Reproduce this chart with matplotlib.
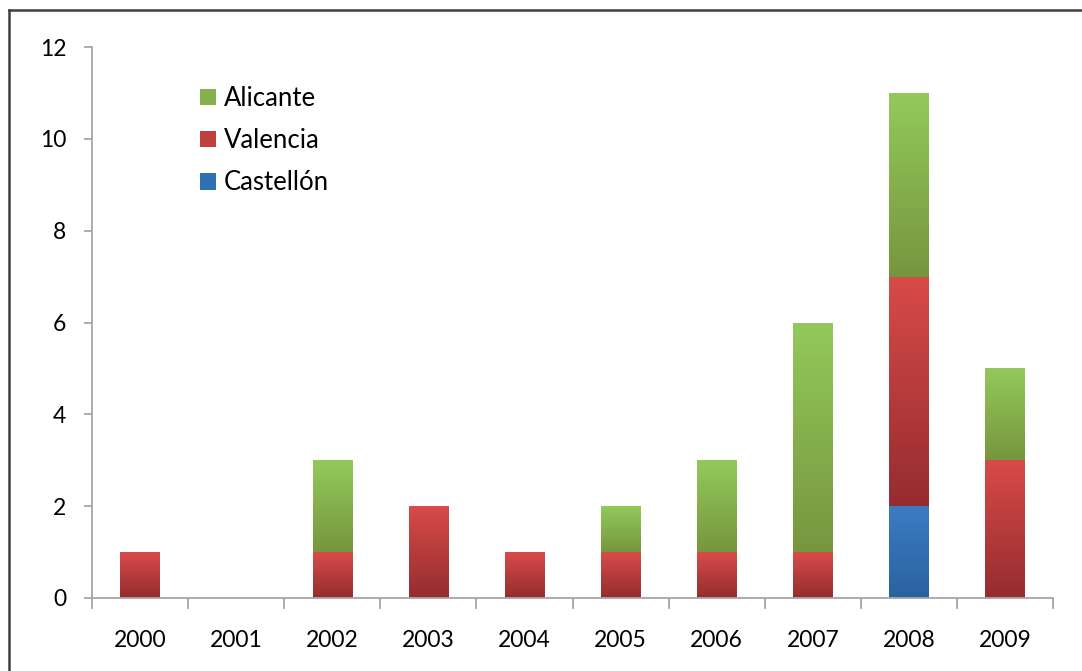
import matplotlib
matplotlib.use("Agg")
import matplotlib.pyplot as plt
import numpy as np
from matplotlib.colors import LinearSegmentedColormap
from matplotlib.patches import Patch
from matplotlib.lines import Line2D

years = ["2000", "2001", "2002", "2003", "2004", "2005", "2006", "2007", "2008", "2009"]
castellon = [0, 0, 0, 0, 0, 0, 0, 0, 2, 0]
valencia = [1, 0, 1, 2, 1, 1, 1, 1, 5, 3]
alicante = [0, 0, 2, 0, 0, 1, 2, 5, 4, 2]

series = [
    ("Castellón", castellon, ("#3B7CC1", "#2A62A0"), "#3070B5"),
    ("Valencia", valencia, ("#D84B49", "#952C2F"), "#C0403F"),
    ("Alicante", alicante, ("#93C95B", "#76963E"), "#86B04E"),
]

plt.rcParams['font.family'] = ['Lato', 'DejaVu Sans']

W, H = 1082, 671
fig = plt.figure(figsize=(W / 100, H / 100), dpi=100)
fig.patch.set_facecolor("white")

ax = fig.add_axes([92 / W, 1 - 598 / H, (1053 - 92) / W, (598 - 47) / H])
ax.set_facecolor("white")

x = np.arange(len(years))
width = 0.41
bottom = np.zeros(len(years))
handles = {}
for name, vals, (ctop, cbot), cmid in series:
    vals = np.array(vals, dtype=float)
    bars = ax.bar(x, vals, width, bottom=bottom, color="none", edgecolor="none", label=name)
    cmap = LinearSegmentedColormap.from_list(name, [cbot, ctop])
    grad = np.linspace(0, 1, 256).reshape(-1, 1)
    for b, v, b0 in zip(bars, vals, bottom):
        if v <= 0:
            continue
        x0 = b.get_x()
        im = ax.imshow(grad, cmap=cmap, origin="lower", aspect="auto",
                       extent=[x0, x0 + width, b0, b0 + v], zorder=2,
                       interpolation="bicubic")
        im.set_clip_path(b)
    handles[name] = Patch(facecolor=cmid, edgecolor="none")
    bottom = bottom + vals

ax.set_xlim(-0.5, len(years) - 0.5)
ax.set_ylim(0, 12)

for s in ["top", "right"]:
    ax.spines[s].set_visible(False)
for s in ["left", "bottom"]:
    ax.spines[s].set_color("#A6A6A6")
    ax.spines[s].set_linewidth(1.3)

ax.set_yticks(np.arange(0, 13, 2))
ax.set_yticklabels([str(v) for v in range(0, 13, 2)])
ax.tick_params(axis="y", direction="out", length=6, width=1.3, color="#A6A6A6",
               labelsize=16.5, pad=12.5, labelcolor="black")

ax.set_xticks(x)
ax.set_xticklabels(years)
ax.set_xticks(np.arange(-0.5, len(years), 1), minor=True)
ax.tick_params(axis="x", which="major", length=0, labelsize=16.5, pad=23, labelcolor="black")
ax.tick_params(axis="x", which="minor", direction="out", length=8, width=1.3, color="#A6A6A6")

order = ["Alicante", "Valencia", "Castellón"]
leg = ax.legend([handles[n] for n in order], order, loc="upper left",
                bbox_to_anchor=(200 / W, 1 - 86 / H), bbox_transform=fig.transFigure,
                frameon=False, fontsize=18.5, handlelength=0.62, handleheight=0.62,
                handletextpad=0.31, labelspacing=0.67, borderpad=0, borderaxespad=0)

fig.add_artist(Line2D([9 / W, 9 / W], [1 - 10 / H, -0.1], transform=fig.transFigure,
                      color="#404040", linewidth=1.8))
fig.add_artist(Line2D([9 / W, 1.1], [1 - 10 / H, 1 - 10 / H], transform=fig.transFigure,
                      color="#404040", linewidth=1.8))

fig.savefig("out.png", dpi=100, facecolor="white")
